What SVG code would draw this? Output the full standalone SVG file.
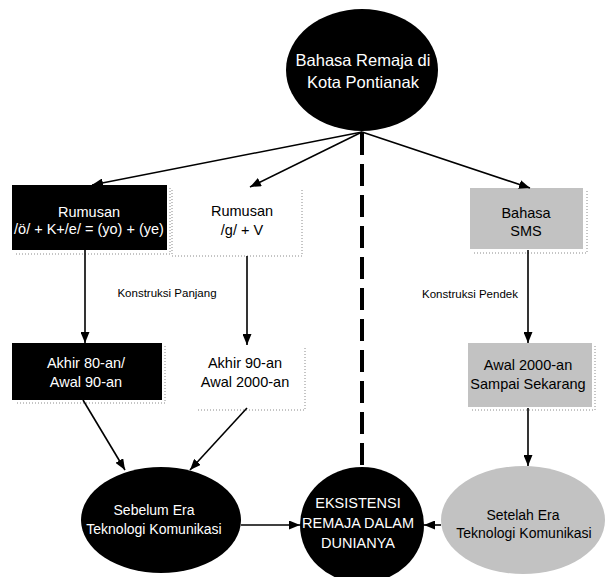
<svg xmlns="http://www.w3.org/2000/svg" width="608" height="577" viewBox="0 0 608 577">
<defs>
<marker id="ah" markerUnits="userSpaceOnUse" markerWidth="11" markerHeight="9" refX="11" refY="4.5" orient="auto">
<path d="M0,0 L11,4.5 L0,9 z" fill="#000"/>
</marker>
<style>
text{font-family:"Liberation Sans",Arial,sans-serif;text-anchor:middle}
.dark{fill:#000}
.gray{fill:#c2c2c2}
.white{fill:#fff}
.tw{fill:#fff;font-size:14.5px}
.tb{fill:#000;font-size:14.5px}
.sh{fill:none;stroke:#8a8a8a;stroke-width:1;stroke-dasharray:1 2}
.conn{stroke:#000;stroke-width:1.6;fill:none;marker-end:url(#ah)}
.lbl{fill:#000;font-size:11.5px}
</style>
</defs>
<rect width="608" height="577" fill="#fff"/>

<g id="top">
<ellipse cx="362" cy="70" rx="76" ry="61" class="dark"/>
<text x="363" y="66" fill="#fff" font-size="16.5">Bahasa Remaja di</text>
<text x="363" y="88" fill="#fff" font-size="16.5">Kota Pontianak</text>
</g>

<g id="rumusan1">
<rect x="12" y="185" width="155" height="65" class="dark"/>
<polyline points="170,188 170,254 15,254" class="sh"/>
<text x="89" y="217" class="tw">Rumusan</text>
<text x="89" y="234" class="tw">/ö/ + K+/e/ = (yo) + (ye)</text>
</g>

<g id="rumusan2">
<rect x="180" y="187" width="120" height="66" class="white"/>
<polyline points="172,190 172,256 302,256 302,190" class="sh"/>
<text x="242" y="216" class="tb">Rumusan</text>
<text x="242" y="235" class="tb">/g/ + V</text>
</g>

<g id="sms">
<rect x="470" y="188" width="113" height="61" class="gray"/>
<polyline points="587,191 587,253 473,253" class="sh"/>
<text x="526" y="218" class="tb">Bahasa</text>
<text x="526" y="236" class="tb">SMS</text>
</g>

<g id="akhir80">
<rect x="12" y="343" width="150" height="57" class="dark"/>
<polyline points="165,346 165,403 15,403" class="sh"/>
<text x="86" y="368" class="tw">Akhir 80-an/</text>
<text x="86" y="387" class="tw">Awal 90-an</text>
</g>

<g id="akhir90">
<rect x="193" y="345" width="110" height="62" class="white"/>
<polyline points="305,348 305,410 196,410" class="sh"/>
<text x="245" y="368" class="tb">Akhir 90-an</text>
<text x="245" y="387" class="tb">Awal 2000-an</text>
</g>

<g id="awal2000">
<rect x="468" y="343" width="124" height="64" class="gray"/>
<polyline points="595,346 595,410 471,410" class="sh"/>
<text x="528" y="370" class="tb">Awal 2000-an</text>
<text x="528" y="389" class="tb">Sampai Sekarang</text>
</g>

<g id="sebelum">
<ellipse cx="161" cy="520" rx="80" ry="53" class="dark"/>
<text x="154" y="515" fill="#fff" font-size="14">Sebelum Era</text>
<text x="154" y="534" fill="#fff" font-size="14">Teknologi Komunikasi</text>
</g>

<g id="eksistensi">
<ellipse cx="362" cy="525" rx="62" ry="58" class="dark"/>
<text x="358" y="508" class="tw">EKSISTENSI</text>
<text x="358" y="528" class="tw">REMAJA DALAM</text>
<text x="358" y="548" class="tw">DUNIANYA</text>
</g>

<g id="setelah">
<ellipse cx="523" cy="520" rx="82" ry="54" class="gray"/>
<text x="523" y="520" fill="#000" font-size="14">Setelah Era</text>
<text x="524" y="538" fill="#000" font-size="14">Teknologi Komunikasi</text>
</g>

<g id="labels">
<text x="167" y="297" class="lbl">Konstruksi Panjang</text>
<text x="470" y="298" class="lbl">Konstruksi Pendek</text>
</g>

<g id="connectors">
<line x1="362" y1="133" x2="362" y2="467" stroke="#000" stroke-width="4" stroke-dasharray="22 9"/>
<line x1="362" y1="132" x2="92" y2="185" class="conn"/>
<line x1="362" y1="132" x2="250" y2="187" class="conn"/>
<line x1="362" y1="132" x2="530" y2="188" class="conn"/>
<line x1="85" y1="250" x2="85" y2="343" class="conn"/>
<line x1="247" y1="256" x2="247" y2="345" class="conn"/>
<line x1="528" y1="250" x2="528" y2="343" class="conn"/>
<line x1="528" y1="408" x2="528" y2="466" class="conn"/>
<line x1="83" y1="400" x2="125" y2="470" class="conn"/>
<line x1="247" y1="408" x2="190" y2="470" class="conn"/>
<line x1="241" y1="525" x2="300" y2="525" class="conn"/>
<line x1="441" y1="525" x2="424" y2="525" class="conn"/>
</g>
</svg>
